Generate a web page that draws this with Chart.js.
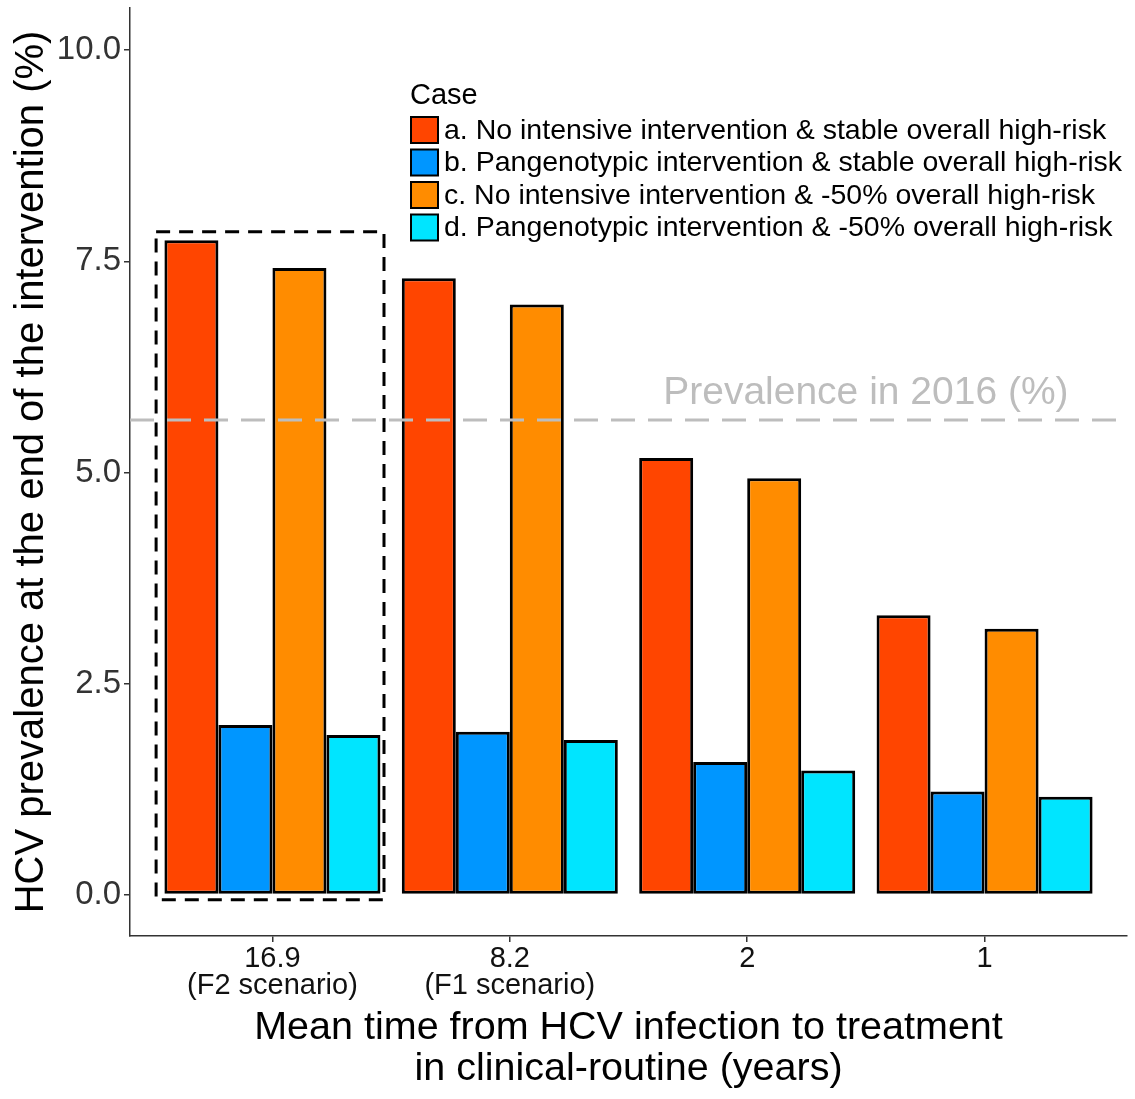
<!DOCTYPE html>
<html>
<head>
<meta charset="utf-8">
<script src="https://cdn.jsdelivr.net/npm/chart.js@4.4.0/dist/chart.umd.min.js"></script>
<style>
  html, body { margin: 0; padding: 0; background: #fff; }
</style>
</head>
<body>
<canvas id="grafico" width="1135" height="1099"></canvas>
<script>
// datos del grafico
const categorias = [["16.9", "(F2 scenario)"], ["8.2", "(F1 scenario)"], ["2"], ["1"]];
const casos = [
  "a. No intensive intervention & stable overall high-risk",
  "b. Pangenotypic intervention & stable overall high-risk",
  "c. No intensive intervention & -50% overall high-risk",
  "d. Pangenotypic intervention & -50% overall high-risk"
];
const valoresA = [7.75, 7.30, 5.17, 3.31];
const valoresB = [2.01, 1.93, 1.57, 1.22];
const valoresC = [7.42, 6.99, 4.93, 3.15];
const valoresD = [1.89, 1.83, 1.47, 1.16];
const colores = ["#FF4500", "#0096FF", "#FF8C00", "#00E5FF"];
const ticksY = [0, 2.5, 5, 7.5, 10];
const prevalencia2016 = 5.62;
// rectangulo punteado del escenario F2 (coordenadas de datos)
const cajaF2 = { x0: -0.49, x1: 0.47, y0: -0.06, y1: 7.85 };

const fuente = "'Liberation Sans', Arial, sans-serif";

function aPuntos(valores) {
  return valores.map(function (v, i) { return { x: i, y: v }; });
}

const series = [valoresA, valoresB, valoresC, valoresD];
const datasets = series.map(function (vals, i) {
  return {
    label: casos[i],
    data: aPuntos(vals),
    backgroundColor: colores[i],
    borderColor: "#000",
    borderWidth: 3,
    borderSkipped: false,
    categoryPercentage: 0.91,
    barPercentage: 1.0
  };
});

// lineas extra y leyenda dentro del area
const extras = {
  id: "extras",
  afterDatasetsDraw(chart) {
    const ctx = chart.ctx;
    const x = chart.scales.x;
    const y = chart.scales.y;
    const area = chart.chartArea;

    // linea de prevalencia 2016
    ctx.save();
    ctx.strokeStyle = "#bdbdbd";
    ctx.lineWidth = 3;
    ctx.setLineDash([24, 13]);
    const yp = y.getPixelForValue(prevalencia2016);
    ctx.beginPath();
    ctx.moveTo(area.left, yp);
    ctx.lineTo(area.right, yp);
    ctx.stroke();
    ctx.setLineDash([]);
    ctx.fillStyle = "#bdbdbd";
    ctx.font = "39px " + fuente;
    ctx.textAlign = "center";
    ctx.textBaseline = "alphabetic";
    ctx.fillText("Prevalence in 2016 (%)", x.getPixelForValue(2.5), yp - 16);

    // caja punteada
    ctx.strokeStyle = "#000";
    ctx.lineWidth = 3;
    ctx.setLineDash([14, 9]);
    const bx0 = x.getPixelForValue(cajaF2.x0);
    const bx1 = x.getPixelForValue(cajaF2.x1);
    const by0 = y.getPixelForValue(cajaF2.y0);
    const by1 = y.getPixelForValue(cajaF2.y1);
    ctx.strokeRect(bx0, by1, bx1 - bx0, by0 - by1);
    ctx.setLineDash([]);

    // leyenda
    const lx = 410;
    ctx.fillStyle = "#000";
    ctx.textAlign = "left";
    ctx.textBaseline = "middle";
    ctx.font = "29px " + fuente;
    ctx.fillText("Case", lx, 96);
    ctx.font = "28.5px " + fuente;
    for (let i = 0; i < casos.length; i++) {
      const fy = 130 + i * 32.5;
      ctx.fillStyle = colores[i];
      ctx.fillRect(lx + 1, fy - 13, 27, 26);
      ctx.strokeStyle = "#000";
      ctx.lineWidth = 2;
      ctx.strokeRect(lx + 1, fy - 13, 27, 26);
      ctx.fillStyle = "#000";
      ctx.fillText(casos[i], lx + 34, fy + 1);
    }
    ctx.restore();
  }
};

const ctx = document.getElementById("grafico").getContext("2d");
new Chart(ctx, {
  type: "bar",
  data: { datasets: datasets },
  options: {
    responsive: false,
    devicePixelRatio: 1,
    animation: false,
    layout: { padding: { top: 8, right: 8, left: 0, bottom: 0 } },
    plugins: {
      legend: { display: false },
      tooltip: { enabled: false }
    },
    scales: {
      x: {
        type: "linear",
        min: -0.6,
        max: 3.6,
        offset: false,
        afterBuildTicks: function (scale) {
          scale.ticks = [0, 1, 2, 3].map(function (v) { return { value: v }; });
        },
        afterFit: function (scale) {
          scale.height = 163;
          scale.paddingLeft = 0;
          scale.paddingRight = 0;
        },
        grid: { display: true, offset: false, drawOnChartArea: false, drawTicks: true, tickLength: 6, color: "#333", lineWidth: 1.5 },
        border: { display: true, color: "#333", width: 1.5 },
        ticks: {
          autoSkip: false,
          maxRotation: 0,
          padding: 3,
          color: "#111",
          font: { family: fuente, size: 29, lineHeight: 0.95 },
          callback: function (v) { return categorias[v]; }
        },
        title: {
          display: true,
          text: ["Mean time from HCV infection to treatment", "in clinical-routine (years)"],
          color: "#000",
          font: { family: fuente, size: 39.5, lineHeight: 1.05 },
          padding: { top: 0, bottom: 9 }
        }
      },
      y: {
        min: -0.49,
        max: 10.5,
        afterBuildTicks: function (scale) {
          scale.ticks = ticksY.map(function (v) { return { value: v }; });
        },
        afterFit: function (scale) {
          scale.width = 130;
          scale.paddingTop = 0;
          scale.paddingBottom = 0;
        },
        grid: { display: true, drawOnChartArea: false, drawTicks: true, tickLength: 6, color: "#333", lineWidth: 1.5 },
        border: { display: true, color: "#333", width: 1.5 },
        ticks: {
          padding: 3,
          color: "#333",
          font: { family: fuente, size: 33 },
          callback: function (v) { return Number(v).toFixed(1); }
        },
        title: {
          display: true,
          text: "HCV prevalence at the end of the intervention (%)",
          color: "#000",
          font: { family: fuente, size: 40, lineHeight: 1.2 },
          padding: { top: 8, bottom: 0 }
        }
      }
    }
  },
  plugins: [extras]
});
</script>
</body>
</html>
